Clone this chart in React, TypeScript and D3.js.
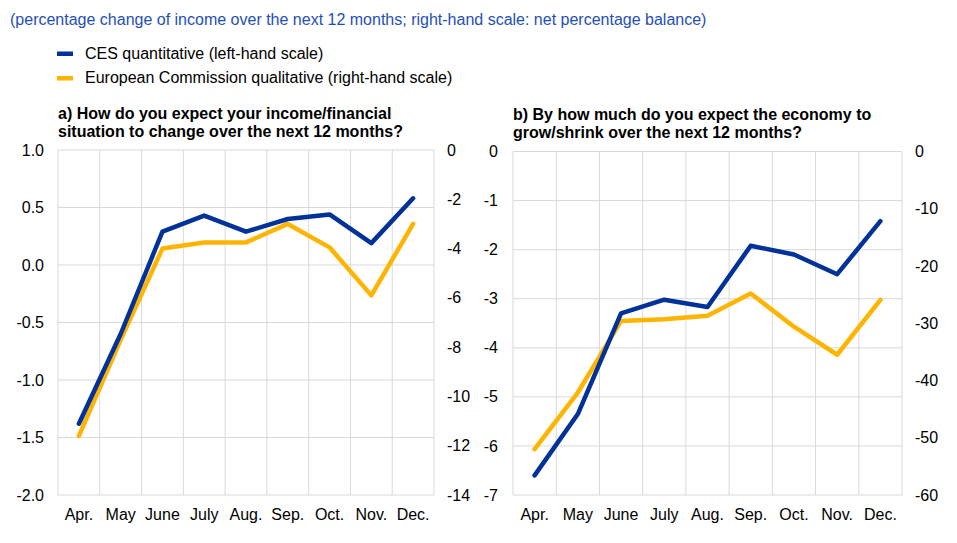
import * as d3 from 'd3';
import React from 'react';

const months = ['Apr.', 'May', 'June', 'July', 'Aug.', 'Sep.', 'Oct.', 'Nov.', 'Dec.'];

// panel a
const cesIncome = [-1.38, -0.6, 0.29, 0.43, 0.29, 0.4, 0.44, 0.19, 0.58];
const ecIncome = [-11.6, -7.7, -4.0, -3.75, -3.75, -3.0, -3.95, -5.9, -3.0];
const incomeLeftTicks = [1.0, 0.5, 0.0, -0.5, -1.0, -1.5, -2.0];
const incomeRightTicks = [0, -2, -4, -6, -8, -10, -12, -14];

// panel b
const cesEconomy = [-6.6, -5.35, -3.3, -3.02, -3.17, -1.92, -2.1, -2.5, -1.42];
const ecEconomy = [-52.0, -42.1, -29.6, -29.3, -28.7, -24.8, -30.6, -35.5, -25.9];
const economyLeftTicks = [0, -1, -2, -3, -4, -5, -6, -7];
const economyRightTicks = [0, -10, -20, -30, -40, -50, -60];

const BLUE = '#003299';
const YELLOW = '#FFB400';
const GRID = '#d9d9d9';
const FONT = '"Liberation Sans", Arial, sans-serif';
const FS = 16;

// plain hyphen instead of d3's unicode minus
const fmt1 = (v: number) => v.toFixed(1);
const fmt0 = (v: number) => v.toFixed(0);

type PanelProps = {
  x0: number;
  x1: number;
  y0: number;
  y1: number;
  title: string[];
  ces: number[];
  ec: number[];
  leftTicks: number[];
  rightTicks: number[];
  leftFmt: (v: number) => string;
  rightFmt: (v: number) => string;
  leftLabelX: number;
  rightLabelX: number;
  titleY: number;
};

function Panel(p: PanelProps) {
  const x = d3.scaleBand().domain(months).range([p.x0, p.x1]);
  const yl = d3.scaleLinear().domain([d3.min(p.leftTicks)!, d3.max(p.leftTicks)!]).range([p.y1, p.y0]);
  const yr = d3.scaleLinear().domain([d3.min(p.rightTicks)!, d3.max(p.rightTicks)!]).range([p.y1, p.y0]);
  const cx = (m: string) => x(m)! + x.bandwidth() / 2;

  const lineL = d3.line<number>().x((_, i) => cx(months[i])).y(d => yl(d));
  const lineR = d3.line<number>().x((_, i) => cx(months[i])).y(d => yr(d));

  return (
    <g>
      {p.title.map((t, i) => (
        <text key={i} x={p.x0} y={p.titleY + i * 18} fontWeight="bold" fontSize={FS} fill="#000">{t}</text>
      ))}
      {/* horizontal grid */}
      {p.leftTicks.map(t => (
        <line key={'h' + t} x1={p.x0} x2={p.x1} y1={yl(t)} y2={yl(t)} stroke={GRID} strokeWidth={1} />
      ))}
      {/* vertical grid */}
      {months.map(m => (
        <line key={'v' + m} x1={x(m)} x2={x(m)} y1={p.y0} y2={p.y1} stroke={GRID} strokeWidth={1} />
      ))}
      <line x1={p.x1} x2={p.x1} y1={p.y0} y2={p.y1} stroke={GRID} strokeWidth={1} />
      {p.leftTicks.map(t => (
        <text key={'l' + t} x={p.leftLabelX} y={yl(t)} dy="0.35em" textAnchor="end" fontSize={FS} fill="#000">{p.leftFmt(t)}</text>
      ))}
      {p.rightTicks.map(t => (
        <text key={'r' + t} x={p.rightLabelX} y={yr(t)} dy="0.35em" textAnchor="start" fontSize={FS} fill="#000">{p.rightFmt(t)}</text>
      ))}
      {months.map(m => (
        <text key={'x' + m} x={cx(m)} y={p.y1 + 19} dy="0.35em" textAnchor="middle" fontSize={FS} fill="#000">{m}</text>
      ))}
      <path d={lineR(p.ec)!} fill="none" stroke={YELLOW} strokeWidth={4.5} strokeLinejoin="round" strokeLinecap="round" />
      <path d={lineL(p.ces)!} fill="none" stroke={BLUE} strokeWidth={4.5} strokeLinejoin="round" strokeLinecap="round" />
    </g>
  );
}

export default function App() {
  return (
    <svg width={957} height={543} style={{ display: 'block', position: 'absolute', left: 0, top: 0, background: '#fff' }} fontFamily={FONT}>
      <rect width={957} height={543} fill="#fff" />
      <text x={10} y={19} dy="0.35em" fontSize={FS} fill="#1f4fb8">
        (percentage change of income over the next 12 months; right-hand scale: net percentage balance)
      </text>
      <rect x={57} y={51.5} width={16} height={4.5} fill={BLUE} />
      <text x={85} y={53} dy="0.35em" fontSize={FS} fill="#000">CES quantitative (left-hand scale)</text>
      <rect x={57} y={76} width={16} height={4.5} fill={YELLOW} />
      <text x={85} y={77} dy="0.35em" fontSize={FS} fill="#000">European Commission qualitative (right-hand scale)</text>

      <Panel
        x0={58} x1={434} y0={150} y1={495}
        title={['a) How do you expect your income/financial', 'situation to change over the next 12 months?']}
        titleY={119}
        ces={cesIncome} ec={ecIncome}
        leftTicks={incomeLeftTicks} rightTicks={incomeRightTicks}
        leftFmt={fmt1} rightFmt={fmt0}
        leftLabelX={44} rightLabelX={447}
      />
      <Panel
        x0={513} x1={902} y0={151.5} y1={495}
        title={['b) By how much do you expect the economy to', 'grow/shrink over the next 12 months?']}
        titleY={120}
        ces={cesEconomy} ec={ecEconomy}
        leftTicks={economyLeftTicks} rightTicks={economyRightTicks}
        leftFmt={fmt0} rightFmt={fmt0}
        leftLabelX={498} rightLabelX={915}
      />
    </svg>
  );
}
